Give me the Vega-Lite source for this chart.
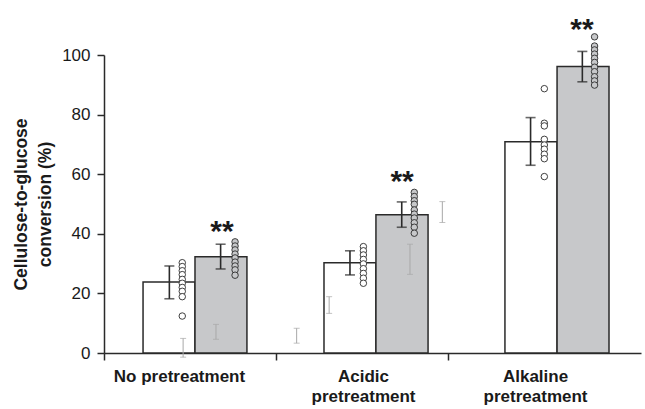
{
  "$schema": "https://vega.github.io/schema/vega-lite/v6.json",
  "width": 537,
  "height": 298,
  "autosize": {"type": "none"},
  "padding": {"left": 104, "top": 55, "right": 4, "bottom": 56},
  "background": "white",
  "config": {"view": {"stroke": null}, "font": "Liberation Sans"},
  "datasets": {
    "bars": [
      {"group": "No pretreatment", "treat": "control", "x1": 0.227, "x2": 0.529, "mean": 23.8, "ex": 0.380, "lo": 18.2, "hi": 29.2},
      {"group": "No pretreatment", "treat": "treated", "x1": 0.529, "x2": 0.831, "mean": 32.3, "ex": 0.678, "lo": 28.2, "hi": 36.5},
      {"group": "Acidic pretreatment", "treat": "control", "x1": 1.279, "x2": 1.581, "mean": 30.3, "ex": 1.430, "lo": 26.2, "hi": 34.3},
      {"group": "Acidic pretreatment", "treat": "treated", "x1": 1.581, "x2": 1.884, "mean": 46.4, "ex": 1.731, "lo": 42.2, "hi": 50.7},
      {"group": "Alkaline pretreatment", "treat": "control", "x1": 2.331, "x2": 2.634, "mean": 70.9, "ex": 2.480, "lo": 63.0, "hi": 79.0},
      {"group": "Alkaline pretreatment", "treat": "treated", "x1": 2.634, "x2": 2.936, "mean": 96.1, "ex": 2.781, "lo": 91.0, "hi": 101.2}
    ],
    "points": [
      {"treat": "control", "x": 0.455, "v": 30.3}, {"treat": "control", "x": 0.455, "v": 29.0}, {"treat": "control", "x": 0.455, "v": 27.6}, {"treat": "control", "x": 0.455, "v": 26.3}, {"treat": "control", "x": 0.455, "v": 24.7}, {"treat": "control", "x": 0.455, "v": 23.4}, {"treat": "control", "x": 0.455, "v": 22.0}, {"treat": "control", "x": 0.455, "v": 20.7}, {"treat": "control", "x": 0.455, "v": 18.9}, {"treat": "control", "x": 0.455, "v": 12.4},
      {"treat": "treated", "x": 0.762, "v": 37.3}, {"treat": "treated", "x": 0.762, "v": 35.9}, {"treat": "treated", "x": 0.762, "v": 34.6}, {"treat": "treated", "x": 0.762, "v": 33.2}, {"treat": "treated", "x": 0.762, "v": 31.9}, {"treat": "treated", "x": 0.762, "v": 30.5}, {"treat": "treated", "x": 0.762, "v": 29.2}, {"treat": "treated", "x": 0.762, "v": 27.9}, {"treat": "treated", "x": 0.762, "v": 26.1},
      {"treat": "control", "x": 1.508, "v": 35.7}, {"treat": "control", "x": 1.508, "v": 34.3}, {"treat": "control", "x": 1.508, "v": 32.9}, {"treat": "control", "x": 1.508, "v": 31.4}, {"treat": "control", "x": 1.508, "v": 29.9}, {"treat": "control", "x": 1.508, "v": 28.3}, {"treat": "control", "x": 1.508, "v": 26.7}, {"treat": "control", "x": 1.508, "v": 25.1}, {"treat": "control", "x": 1.508, "v": 23.4},
      {"treat": "treated", "x": 1.804, "v": 53.9}, {"treat": "treated", "x": 1.804, "v": 52.5}, {"treat": "treated", "x": 1.804, "v": 51.1}, {"treat": "treated", "x": 1.804, "v": 49.9}, {"treat": "treated", "x": 1.804, "v": 48.0}, {"treat": "treated", "x": 1.804, "v": 46.6}, {"treat": "treated", "x": 1.804, "v": 45.3}, {"treat": "treated", "x": 1.804, "v": 43.7}, {"treat": "treated", "x": 1.804, "v": 42.2}, {"treat": "treated", "x": 1.804, "v": 40.2},
      {"treat": "control", "x": 2.560, "v": 88.7}, {"treat": "control", "x": 2.560, "v": 77.1}, {"treat": "control", "x": 2.560, "v": 76.2}, {"treat": "control", "x": 2.560, "v": 71.7}, {"treat": "control", "x": 2.560, "v": 69.8}, {"treat": "control", "x": 2.560, "v": 68.4}, {"treat": "control", "x": 2.560, "v": 66.7}, {"treat": "control", "x": 2.560, "v": 65.2}, {"treat": "control", "x": 2.560, "v": 59.2},
      {"treat": "treated", "x": 2.852, "v": 106.1}, {"treat": "treated", "x": 2.852, "v": 103.0}, {"treat": "treated", "x": 2.852, "v": 101.7}, {"treat": "treated", "x": 2.852, "v": 100.3}, {"treat": "treated", "x": 2.852, "v": 98.9}, {"treat": "treated", "x": 2.852, "v": 97.5}, {"treat": "treated", "x": 2.852, "v": 95.9}, {"treat": "treated", "x": 2.852, "v": 94.4}, {"treat": "treated", "x": 2.852, "v": 92.7}, {"treat": "treated", "x": 2.852, "v": 91.3}, {"treat": "treated", "x": 2.852, "v": 89.9}
    ],
    "faint": [
      {"x": 0.460, "lo": -1.4, "hi": 4.9},
      {"x": 0.651, "lo": 4.6, "hi": 9.6},
      {"x": 1.120, "lo": 3.3, "hi": 8.3},
      {"x": 1.309, "lo": 13.3, "hi": 18.9},
      {"x": 1.779, "lo": 26.4, "hi": 36.5},
      {"x": 1.967, "lo": 43.8, "hi": 50.8}
    ],
    "stars": [
      {"x": 0.686, "y": 42.6, "label": "**"},
      {"x": 1.733, "y": 59.4, "label": "**"},
      {"x": 2.779, "y": 110.4, "label": "**"}
    ]
  },
  "layer": [
    {
      "data": {"name": "bars"},
      "mark": {"type": "rect", "stroke": "#2a2a2a", "strokeWidth": 1.5},
      "encoding": {
        "x": {
          "field": "x1", "type": "quantitative",
          "scale": {"domain": [0, 3.122], "nice": false, "zero": false},
          "axis": {
            "title": null,
            "values": [0, 0.436, 1, 1.506, 2, 2.506],
            "labelExpr": "datum.value == 0.436 ? 'No pretreatment' : datum.value == 1.506 ? ['Acidic', 'pretreatment'] : datum.value == 2.506 ? ['Alkaline', 'pretreatment'] : ''",
            "tickOpacity": {"condition": {"test": "datum.value % 1 == 0", "value": 1}, "value": 0},
            "grid": false,
            "domainColor": "#2a2a2a",
            "domainWidth": 1.5,
            "tickColor": "#2a2a2a",
            "tickWidth": 1.5,
            "tickSize": 7,
            "labelFont": "Liberation Sans",
            "labelFontSize": 17,
            "labelFontWeight": "bold",
            "labelColor": "#1a1a1a",
            "labelAlign": "center",
            "labelBaseline": "top",
            "labelPadding": 8,
            "labelLineHeight": 20,
            "labelBound": false,
            "labelFlush": false,
            "labelOverlap": false
          }
        },
        "x2": {"field": "x2"},
        "y": {
          "field": "mean", "type": "quantitative",
          "scale": {"domain": [0, 100], "nice": false},
          "axis": {
            "title": ["Cellulose-to-glucose", "conversion (%)"],
            "titleFont": "Liberation Sans",
            "titleFontSize": 17.5,
            "titleFontWeight": "bold",
            "titleColor": "#1a1a1a",
            "titleLineHeight": 24,
            "titlePadding": 7,
            "values": [0, 20, 40, 60, 80, 100],
            "grid": false,
            "domainColor": "#2a2a2a",
            "domainWidth": 1.5,
            "tickColor": "#2a2a2a",
            "tickWidth": 1.5,
            "tickSize": 7,
            "labelFont": "Liberation Sans",
            "labelFontSize": 17,
            "labelColor": "#1a1a1a",
            "labelPadding": 7
          }
        },
        "y2": {"datum": 0},
        "fill": {"field": "treat", "type": "nominal", "scale": {"domain": ["control", "treated"], "range": ["#ffffff", "#c7c8ca"]}, "legend": null}
      }
    },
    {
      "data": {"name": "faint"},
      "mark": {"type": "rule", "color": "#a8a8a8", "strokeWidth": 1},
      "encoding": {
        "x": {"field": "x", "type": "quantitative"},
        "y": {"field": "lo", "type": "quantitative"},
        "y2": {"field": "hi"}
      }
    },
    {
      "data": {"name": "faint"},
      "mark": {"type": "tick", "orient": "horizontal", "color": "#a8a8a8", "size": 6, "thickness": 1},
      "encoding": {
        "x": {"field": "x", "type": "quantitative"},
        "y": {"field": "lo", "type": "quantitative"}
      }
    },
    {
      "data": {"name": "faint"},
      "mark": {"type": "tick", "orient": "horizontal", "color": "#a8a8a8", "size": 6, "thickness": 1},
      "encoding": {
        "x": {"field": "x", "type": "quantitative"},
        "y": {"field": "hi", "type": "quantitative"}
      }
    },
    {
      "data": {"name": "bars"},
      "mark": {"type": "rule", "color": "#2a2a2a", "strokeWidth": 1.6},
      "encoding": {
        "x": {"field": "ex", "type": "quantitative"},
        "y": {"field": "lo", "type": "quantitative"},
        "y2": {"field": "hi"}
      }
    },
    {
      "data": {"name": "bars"},
      "mark": {"type": "tick", "orient": "horizontal", "color": "#2a2a2a", "size": 10, "thickness": 1.6},
      "encoding": {
        "x": {"field": "ex", "type": "quantitative"},
        "y": {"field": "lo", "type": "quantitative"}
      }
    },
    {
      "data": {"name": "bars"},
      "mark": {"type": "tick", "orient": "horizontal", "color": "#2a2a2a", "size": 10, "thickness": 1.6},
      "encoding": {
        "x": {"field": "ex", "type": "quantitative"},
        "y": {"field": "hi", "type": "quantitative"}
      }
    },
    {
      "data": {"name": "points"},
      "mark": {"type": "point", "shape": "circle", "filled": false, "size": 42, "stroke": "#2a2a2a", "strokeWidth": 0.9, "opacity": 1},
      "encoding": {
        "x": {"field": "x", "type": "quantitative"},
        "y": {"field": "v", "type": "quantitative"},
        "fill": {"field": "treat", "type": "nominal", "scale": {"domain": ["control", "treated"], "range": ["#ffffff", "#c7c8ca"]}, "legend": null}
      }
    },
    {
      "data": {"name": "stars"},
      "mark": {"type": "text", "font": "Liberation Sans", "fontSize": 30, "fontWeight": "bold", "color": "#1a1a1a", "align": "center", "baseline": "middle", "dy": 6},
      "encoding": {
        "x": {"field": "x", "type": "quantitative"},
        "y": {"field": "y", "type": "quantitative"},
        "text": {"field": "label"}
      }
    }
  ]
}
